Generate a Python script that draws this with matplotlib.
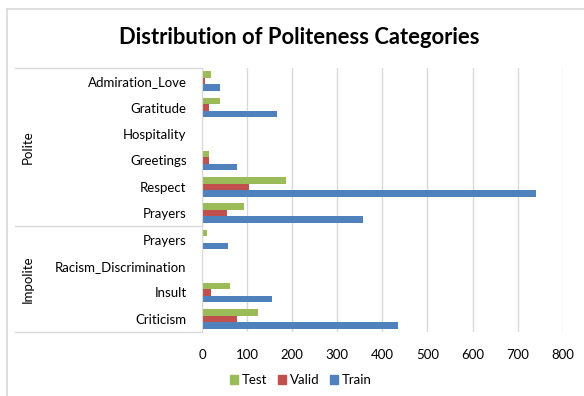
import matplotlib.pyplot as plt
from matplotlib.lines import Line2D
import matplotlib.transforms as mtransforms
import numpy as np

plt.rcParams['font.family'] = ['Lato', 'DejaVu Sans']

# Categories from bottom to top
categories = ["Criticism", "Insult", "Racism_Discrimination", "Prayers",
              "Prayers", "Respect", "Greetings", "Hospitality", "Gratitude", "Admiration_Love"]
groups = ["Impolite", "Polite"]
group_sizes = [4, 6]

train = [434, 155, 0, 57, 356, 740, 78, 0, 167, 41]
valid = [77, 21, 0, 1, 56, 104, 16, 0, 15, 7]
test = [124, 63, 0, 10, 94, 187, 16, 0, 41, 20]

xticks = [0, 100, 200, 300, 400, 500, 600, 700, 800]

green = "#9BBB59"
red = "#C0504D"
blue = "#4F81BD"
grid = "#D9D9D9"

fig = plt.figure(figsize=(5.84, 3.96), dpi=100)
ax = fig.add_axes([202 / 584, 1 - 332 / 396, 360.7 / 584, 264 / 396])

y = np.arange(len(categories))
h = 0.245
ax.barh(y - h, train, height=h, color=blue, label="Train")
ax.barh(y, valid, height=h, color=red, label="Valid")
ax.barh(y + h, test, height=h, color=green, label="Test")

ax.set_xlim(0, 800)
ax.set_ylim(-0.5, len(categories) - 0.5)
ax.set_xticks(xticks)
ax.set_xticklabels([str(v) for v in xticks], fontsize=9.5)
ax.set_yticks(y)
ax.set_yticklabels(categories, fontsize=9.5)
ax.tick_params(axis='both', length=0)
ax.tick_params(axis='y', pad=11)
ax.tick_params(axis='x', pad=12)

ax.xaxis.grid(True, color=grid, linewidth=1)
ax.set_axisbelow(True)
for s in ["top", "right", "bottom"]:
    ax.spines[s].set_visible(False)
ax.spines["left"].set_color(grid)

# two-level category axis: separator lines and group labels
trans = mtransforms.blended_transform_factory(ax.transAxes, ax.transData)
x_left = (15 - 202) / 360.7
bounds = np.cumsum([0] + group_sizes) - 0.5
for b in bounds:
    ax.plot([x_left, 0], [b, b], color=grid, lw=1, transform=trans, clip_on=False)
for g, lo, hi in zip(groups, bounds[:-1], bounds[1:]):
    ax.text((28 - 202) / 360.7, (lo + hi) / 2, g, rotation=90, ha='center', va='center',
            fontsize=9.5, transform=trans)

fig.suptitle("Distribution of Politeness Categories", x=0.513, y=1 - 37 / 396, va='center',
             fontsize=15.8, fontweight='bold')

handles = [plt.Rectangle((0, 0), 1, 1, color=c) for c in (green, red, blue)]
fig.legend(handles, ["Test", "Valid", "Train"], loc='center', bbox_to_anchor=(301 / 584, 1 - 380 / 396),
           ncol=3, frameon=False, fontsize=9.5, handlelength=0.6, handleheight=0.6,
           handletextpad=0.3, columnspacing=0.8)

# chart border
fig.add_artist(Line2D([7 / 584, 1], [1 - 9 / 396, 1 - 9 / 396], color=grid, lw=1.2, transform=fig.transFigure))
fig.add_artist(Line2D([7 / 584, 7 / 584], [0, 1 - 9 / 396], color=grid, lw=1.2, transform=fig.transFigure))

fig.savefig("out.png", dpi=100)
